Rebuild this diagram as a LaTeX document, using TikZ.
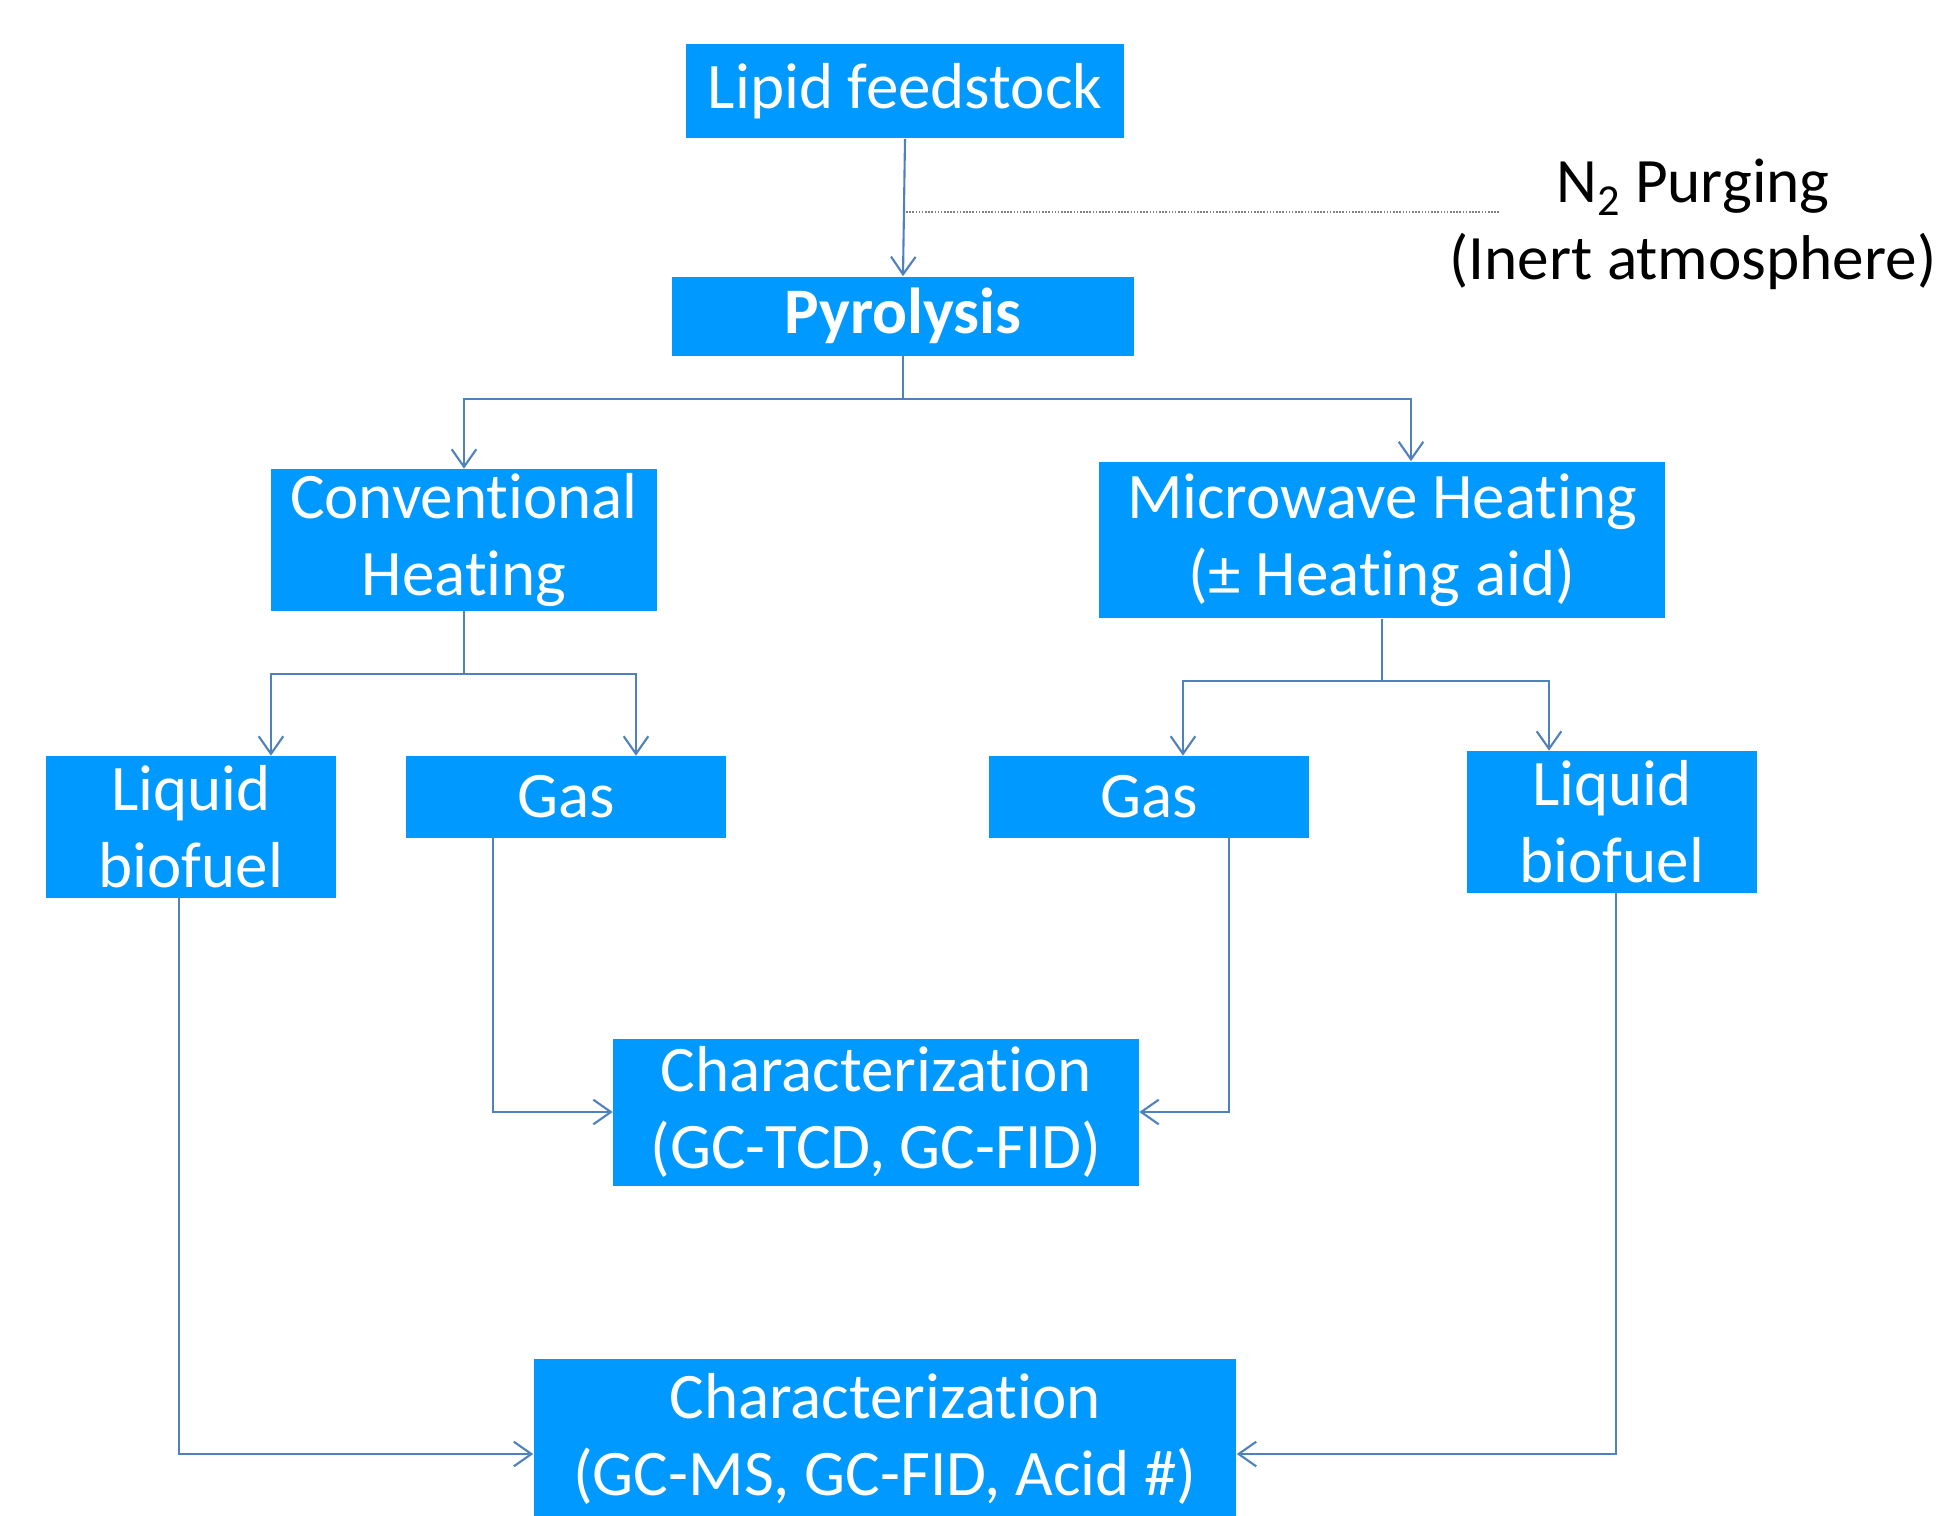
\documentclass[tikz,border=0pt]{standalone}
\usepackage{fontspec}
\setmainfont{Carlito}[Ligatures=NoCommon]
\usetikzlibrary{arrows.meta}
\definecolor{boxblue}{RGB}{0,153,255}
\definecolor{linkblue}{RGB}{79,129,189}

\begin{document}
\begin{tikzpicture}
[x=0.02cm, y=-0.02cm,
 >={Straight Barb[length=10pt,width=14pt]},
 box/.style={rectangle,fill=boxblue,text=white,align=center,inner sep=0pt,
   font=\fontsize{37}{44}\selectfont},
 link/.style={draw=linkblue,line width=1.2pt}]
\useasboundingbox (0,0) rectangle (1937,1515);

\node [box,minimum width=8.78cm,minimum height=1.9cm] (lipid) at (905,91) {Lipid feedstock};
\node [box,minimum width=9.26cm,minimum height=1.58cm] (pyro) at (903,316) {\textbf{Pyrolysis}};
\node [box,minimum width=7.72cm,minimum height=2.84cm] (conv) at (464,540) {Conventional\\Heating};
\node [box,minimum width=11.34cm,minimum height=3.14cm] (micro) at (1382,540) {Microwave Heating\\(± Heating aid)};
\node [box,minimum width=5.8cm,minimum height=2.84cm] (liqL) at (191,827) {Liquid\\biofuel};
\node [box,minimum width=6.4cm,minimum height=1.64cm] (gasL) at (566,797) {Gas};
\node [box,minimum width=6.4cm,minimum height=1.64cm] (gasR) at (1149,797) {Gas};
\node [box,minimum width=5.8cm,minimum height=2.84cm] (liqR) at (1612,822) {Liquid\\biofuel};
\node [box,minimum width=10.52cm,minimum height=2.94cm] (charA) at (876,1112) {Characterization\\(GC-TCD, GC-FID)};
\node [box,minimum width=14.06cm,minimum height=3.2cm] (charB) at (885,1439) {Characterization\\(GC-MS, GC-FID, Acid \#)};

\node [align=center,inner sep=0pt,font=\fontsize{36}{44}\selectfont] (purge) at (1693,224)
  {N\textsubscript{2} Purging\\(Inert atmosphere)};
\coordinate (purgeend) at (1499,212);

\draw [link,->] (lipid.south) -- (pyro.north);
\draw [gray,line width=0.9pt,dash pattern=on 0.9pt off 0.9pt] (purgeend) -- (purgeend -| lipid.south);

\coordinate (pyj) at (903,399);
\draw [link] (pyro.south) -- (pyj);
\draw [link,->] (pyj) -| (conv.north);
\draw [link,->] (pyj) -| ([xshift=0.58cm]micro.north);

\coordinate (cj) at (464,674);
\draw [link] (conv.south) -- (cj);
\draw [link,->] (cj) -| ([xshift=1.6cm]liqL.north);
\draw [link,->] (cj) -| ([xshift=1.4cm]gasL.north);

\coordinate (mj) at (1382,681);
\draw [link] (micro.south) -- (mj);
\draw [link,->] (mj) -| ([xshift=0.68cm]gasR.north);
\draw [link,->] (mj) -| ([xshift=-1.26cm]liqR.north);

\draw [link,->] ([xshift=-1.46cm]gasL.south) |- (charA.west);
\draw [link,->] ([xshift=1.6cm]gasR.south) |- (charA.east);
\draw [link,->] ([xshift=-0.24cm]liqL.south) |- ([yshift=-0.3cm]charB.west);
\draw [link,->] ([xshift=0.08cm]liqR.south) |- ([yshift=-0.3cm]charB.east);
\end{tikzpicture}
\end{document}
